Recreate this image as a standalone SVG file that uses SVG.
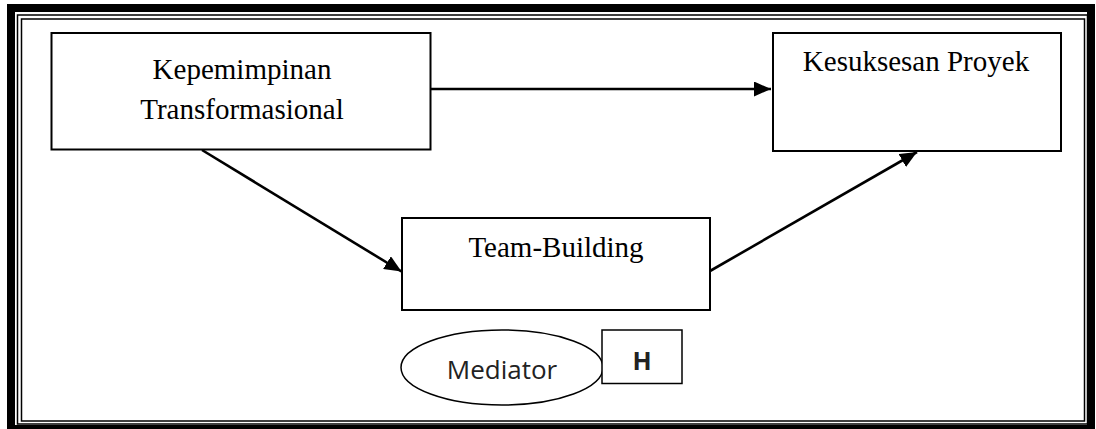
<svg xmlns="http://www.w3.org/2000/svg" width="1096" height="429" viewBox="0 0 1096 429">
  <defs>
    <marker id="arrow" markerUnits="userSpaceOnUse" markerWidth="18" markerHeight="15" refX="17" refY="7.5" orient="auto">
      <path d="M0,0 L17,7.5 L0,15 z" fill="#000"/>
    </marker>
    <style>
      .box { fill: #fff; stroke: #000; stroke-width: 2; }
      .thin { fill: #fff; stroke: #000; stroke-width: 1.5; }
      .serif { font-family: "Liberation Serif", "Times New Roman", serif; font-size: 29px; fill: #000; text-anchor: middle; }
      .sans { font-family: "Open Sans", "Liberation Sans", sans-serif; fill: #222; text-anchor: middle; }
      .conn { stroke: #000; stroke-width: 2.6; fill: none; marker-end: url(#arrow); }
      .frame { fill: none; stroke: #000; }
    </style>
  </defs>
  <rect width="1096" height="429" fill="#fff"/>
  <g id="frame">
    <rect class="frame" x="11" y="8" width="1080" height="421" stroke-width="8"/>
    <rect class="frame" x="17.5" y="15" width="1070" height="409" stroke-width="1.5"/>
    <rect class="frame" x="21.5" y="19" width="1063" height="402" stroke-width="1.5"/>
  </g>
  <g id="connectors">
    <line class="conn" x1="431" y1="89" x2="771" y2="89"/>
    <line class="conn" x1="202" y1="150" x2="401.5" y2="271.5"/>
    <line class="conn" x1="710" y1="271" x2="917" y2="152"/>
  </g>
  <g id="node-kepemimpinan">
    <rect class="box" x="51.5" y="33" width="379" height="116.5"/>
    <text class="serif" x="242" y="79">Kepemimpinan</text>
    <text class="serif" x="242" y="119">Transformasional</text>
  </g>
  <g id="node-kesuksesan">
    <rect class="box" x="773" y="33" width="288" height="118"/>
    <text class="serif" x="916" y="71">Kesuksesan Proyek</text>
  </g>
  <g id="node-teambuilding">
    <rect class="box" x="402" y="218" width="308" height="92"/>
    <text class="serif" x="556" y="257">Team-Building</text>
  </g>
  <g id="node-mediator">
    <ellipse cx="502" cy="367.5" rx="101" ry="37.5" fill="#fff" stroke="#000" stroke-width="1.5"/>
    <text class="sans" x="502" y="379" font-size="26">Mediator</text>
  </g>
  <g id="node-h">
    <rect class="thin" x="602" y="330" width="80" height="53.5"/>
    <text class="sans" x="642" y="370" font-size="25" font-weight="bold">H</text>
  </g>
</svg>
